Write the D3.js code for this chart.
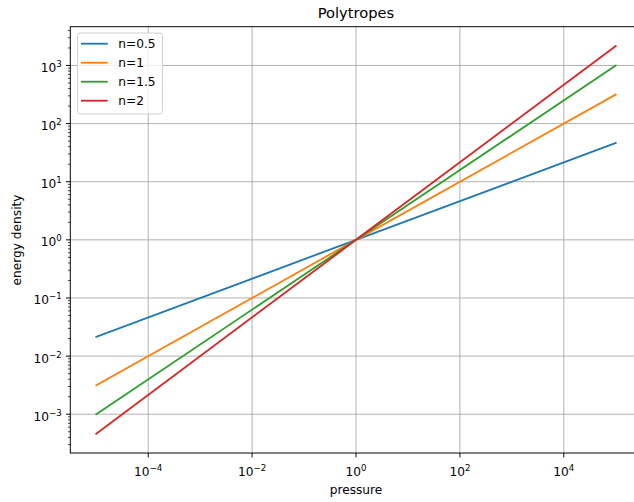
<!DOCTYPE html>
<html>
<head>
<meta charset="utf-8">
<script src="https://cdn.jsdelivr.net/npm/d3@7"></script>
<style>
  html, body { margin: 0; padding: 0; background: #fff; }
  svg { display: block; font-family: "DejaVu Sans", sans-serif; }
</style>
</head>
<body>
<svg id="chart" width="634" height="502"></svg>
<script>
// Pressure samples and energy density for each polytropic index
const pressure = [1e-5, 1, 1e5];
const seriesNames = ["n=0.5", "n=1", "n=1.5", "n=2"];
const energyN05 = [0.0215, 1, 46.4];
const energyN1 = [0.00316, 1, 316];
const energyN15 = [0.001, 1, 1000];
const energyN2 = [0.000464, 1, 2154];
const colors = ["#1f77b4", "#ff7f0e", "#2ca02c", "#d62728"];

// Tick decades
const xTickExps = [-4, -2, 0, 2, 4];
const yTickExps = [-3, -2, -1, 0, 1, 2, 3];

const allSeries = [energyN05, energyN1, energyN15, energyN2];

const svg = d3.select("#chart");
const plotLeft = 70.3, plotRight = 641.7, plotTop = 26.7, plotBottom = 453;

const x = d3.scaleLog().domain([Math.pow(10, -5.5), Math.pow(10, 5.5)]).range([plotLeft, plotRight]);
const y = d3.scaleLog().domain([Math.pow(10, -3.6667), Math.pow(10, 3.6667)]).range([plotBottom, plotTop]);

const fs = 12.2;
const supFs = 8.6;
const majorLen = 4.3, minorLen = 2.4;
const thin = 0.98;

// Grid
const grid = svg.append("g");
xTickExps.forEach(e => {
  const px = x(Math.pow(10, e));
  grid.append("line").attr("x1", px).attr("x2", px).attr("y1", plotTop).attr("y2", plotBottom)
    .attr("stroke", "#b0b0b0").attr("stroke-width", thin);
});
yTickExps.forEach(e => {
  const py = y(Math.pow(10, e));
  grid.append("line").attr("x1", plotLeft).attr("x2", plotRight).attr("y1", py).attr("y2", py)
    .attr("stroke", "#b0b0b0").attr("stroke-width", thin);
});

// Lines
const line = d3.line().x((d, i) => x(pressure[i])).y(d => y(d));
allSeries.forEach((s, i) => {
  svg.append("path").datum(s).attr("d", line)
    .attr("fill", "none").attr("stroke", colors[i]).attr("stroke-width", 1.83)
    .attr("stroke-linecap", "square");
});

// Spines
svg.append("rect").attr("x", plotLeft).attr("y", plotTop)
  .attr("width", plotRight - plotLeft).attr("height", plotBottom - plotTop)
  .attr("fill", "none").attr("stroke", "#000").attr("stroke-width", thin);

// Superscript label helper
function powLabel(sel, e) {
  sel.append("tspan").text("10");
  sel.append("tspan").attr("font-size", supFs).attr("dy", -5)
    .text(e < 0 ? "\u2212" + Math.abs(e) : String(e));
}

// X ticks
xTickExps.forEach(e => {
  const px = x(Math.pow(10, e));
  svg.append("line").attr("x1", px).attr("x2", px).attr("y1", plotBottom).attr("y2", plotBottom + majorLen)
    .attr("stroke", "#000").attr("stroke-width", thin);
  const t = svg.append("text").attr("x", px).attr("y", 476).attr("text-anchor", "middle")
    .attr("font-size", fs).attr("fill", "#000");
  powLabel(t, e);
});

// Y ticks (major and minor)
const [yLo, yHi] = y.domain();
for (let e = -4; e <= 3; e++) {
  for (let m = 1; m <= 9; m++) {
    const v = m * Math.pow(10, e);
    if (v < yLo || v > yHi) continue;
    const py = y(v);
    const len = m === 1 ? majorLen : minorLen;
    svg.append("line").attr("x1", plotLeft - len).attr("x2", plotLeft).attr("y1", py).attr("y2", py)
      .attr("stroke", "#000").attr("stroke-width", m === 1 ? thin : 0.7);
  }
}
yTickExps.forEach(e => {
  const py = y(Math.pow(10, e));
  const t = svg.append("text").attr("x", 61.7).attr("y", py + 6.5).attr("text-anchor", "end")
    .attr("font-size", fs).attr("fill", "#000");
  powLabel(t, e);
});

// Axis labels and title
svg.append("text").attr("x", 356).attr("y", 494).attr("text-anchor", "middle")
  .attr("font-size", fs).text("pressure");
svg.append("text").attr("transform", `translate(20.5,240) rotate(-90)`)
  .attr("text-anchor", "middle").attr("font-size", fs).text("energy density");
svg.append("text").attr("x", 356).attr("y", 18).attr("text-anchor", "middle")
  .attr("font-size", 14.7).text("Polytropes");

// Legend
const lg = svg.append("g");
lg.append("rect").attr("x", 77.5).attr("y", 33).attr("width", 85).attr("height", 81)
  .attr("rx", 2.5).attr("fill", "#fff").attr("fill-opacity", 0.8)
  .attr("stroke", "#d0d0d0").attr("stroke-width", thin);
seriesNames.forEach((name, i) => {
  const cy = 43.7 + i * 19;
  lg.append("line").attr("x1", 81).attr("x2", 107.7).attr("y1", cy).attr("y2", cy)
    .attr("stroke", colors[i]).attr("stroke-width", 1.83);
  lg.append("text").attr("x", 118.3).attr("y", cy + 4.5).attr("font-size", fs).text(name);
});
</script>
</body>
</html>
